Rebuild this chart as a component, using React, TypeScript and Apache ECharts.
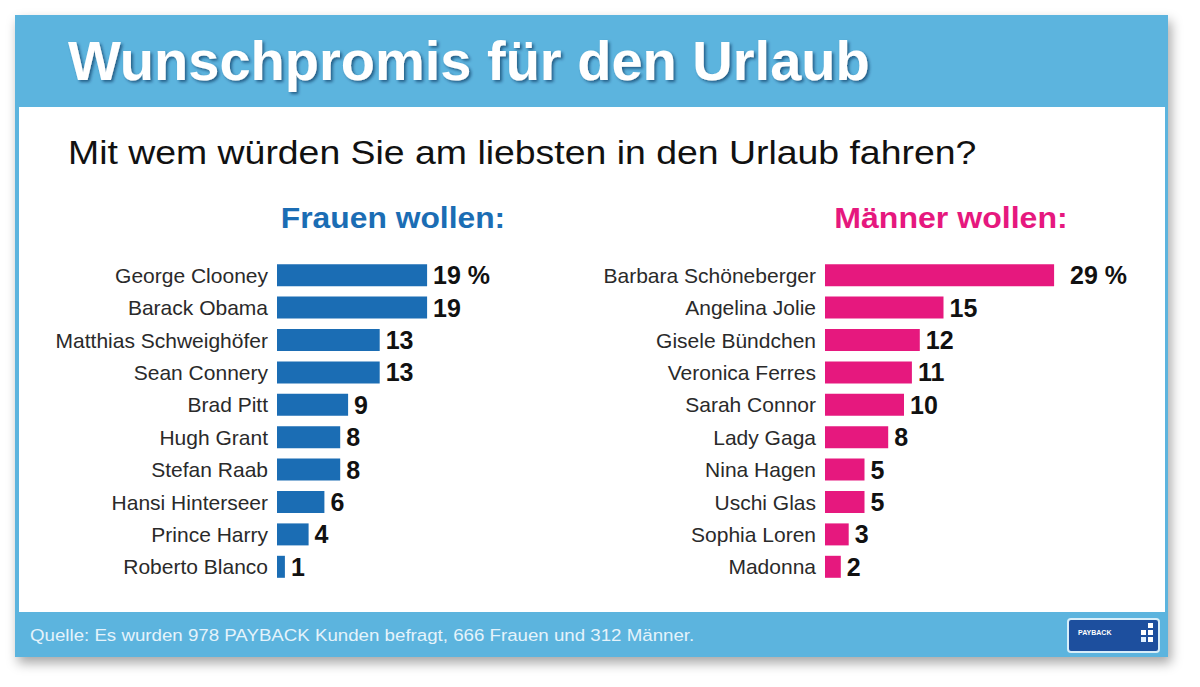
import React, { useEffect, useRef } from "react";
import * as echarts from "echarts";

const frauenNames = [
  "George Clooney",
  "Barack Obama",
  "Matthias Schweighöfer",
  "Sean Connery",
  "Brad Pitt",
  "Hugh Grant",
  "Stefan Raab",
  "Hansi Hinterseer",
  "Prince Harry",
  "Roberto Blanco",
];
const frauenValues = [19, 19, 13, 13, 9, 8, 8, 6, 4, 1];

const maennerNames = [
  "Barbara Schöneberger",
  "Angelina Jolie",
  "Gisele Bündchen",
  "Veronica Ferres",
  "Sarah Connor",
  "Lady Gaga",
  "Nina Hagen",
  "Uschi Glas",
  "Sophia Loren",
  "Madonna",
];
const maennerValues = [29, 15, 12, 11, 10, 8, 5, 5, 3, 2];

const TITLE = "Wunschpromis für den Urlaub";
const SUBTITLE = "Mit wem würden Sie am liebsten in den Urlaub fahren?";
const LEFT_HEAD = "Frauen wollen:";
const RIGHT_HEAD = "Männer wollen:";
const SOURCE = "Quelle: Es wurden 978 PAYBACK Kunden befragt, 666 Frauen und 312 Männer.";

const FONT = "Arial, 'Liberation Sans', Helvetica, sans-serif";
const BLUE = "#1b6db4";
const PINK = "#e6187e";
const FRAME = "#5cb4de";

export default function App() {
  const ref = useRef<HTMLDivElement>(null);
  useEffect(() => {
    if (!ref.current) return;
    const chart = echarts.init(ref.current, undefined, { renderer: "svg" });
    const labelCfg = () => ({
      show: true,
      position: "right" as const,
      distance: 6,
      fontSize: 25,
      fontWeight: "bold" as const,
      color: "#111",
      fontFamily: FONT,
      formatter: (p: any) => (p.dataIndex === 0 ? `${p.value} %` : `${p.value}`),
    });
    const yAxisCfg = (names: string[], gridIndex: number) => ({
      type: "category" as const,
      gridIndex,
      data: names,
      inverse: true,
      z: 10,
      axisLine: { show: false },
      axisTick: { show: false },
      splitLine: { show: false },
      axisLabel: {
        show: true,
        margin: 9,
        fontSize: 21,
        color: "#2a2a2a",
        fontFamily: FONT,
      },
    });
    const xAxisCfg = (gridIndex: number) => ({
      type: "value" as const,
      gridIndex,
      min: 0,
      max: 30,
      show: false,
      splitLine: { show: false },
    });
    const menData = maennerValues.map((v, i) =>
      i === 0 ? { value: v, label: { distance: 16 } } : v
    );
    chart.setOption({
      animation: false,
      backgroundColor: "#ffffff",
      graphic: [
        {
          type: "rect",
          shape: { x: 15, y: 15, width: 1153, height: 642 },
          style: {
            fill: FRAME,
            shadowBlur: 12,
            shadowOffsetX: 3,
            shadowOffsetY: 6,
            shadowColor: "rgba(0,0,0,0.35)",
          },
          z: -10,
        },
        {
          type: "rect",
          shape: { x: 19, y: 107, width: 1146, height: 505 },
          style: { fill: "#ffffff" },
          z: -9,
        },
        {
          type: "text",
          x: 68,
          y: 60,
          style: {
            text: TITLE,
            fontSize: 56,
            fontWeight: "bold",
            fontFamily: FONT,
            fill: "#ffffff",
            verticalAlign: "middle",
            textShadowColor: "rgba(0,40,80,0.6)",
            textShadowBlur: 3,
            textShadowOffsetX: 2,
            textShadowOffsetY: 2,
          },
          z: 2,
        },
        {
          type: "text",
          x: 68,
          y: 153,
          scaleX: 1.1,
          style: {
            text: SUBTITLE,
            fontSize: 34,
            fontFamily: FONT,
            fill: "#111",
            verticalAlign: "middle",
          },
          z: 2,
        },
        {
          type: "text",
          x: 393,
          y: 218,
          scaleX: 1.06,
          style: {
            text: LEFT_HEAD,
            fontSize: 30,
            fontWeight: "bold",
            fontFamily: FONT,
            fill: BLUE,
            align: "center",
            verticalAlign: "middle",
          },
          z: 2,
        },
        {
          type: "text",
          x: 951,
          y: 218,
          scaleX: 1.07,
          style: {
            text: RIGHT_HEAD,
            fontSize: 30,
            fontWeight: "bold",
            fontFamily: FONT,
            fill: PINK,
            align: "center",
            verticalAlign: "middle",
          },
          z: 2,
        },
        {
          type: "text",
          x: 30,
          y: 635,
          scaleX: 1.1,
          style: {
            text: SOURCE,
            fontSize: 17,
            fontFamily: FONT,
            fill: "#e4f3fb",
            verticalAlign: "middle",
          },
          z: 2,
        },
        {
          type: "rect",
          shape: { x: 1068, y: 619, width: 91, height: 33, r: 3 },
          style: { fill: "#1d4f9e", stroke: "#d8eef9", lineWidth: 2 },
          z: 2,
        },
        {
          type: "text",
          x: 1078,
          y: 632,
          style: {
            text: "PAYBACK",
            fontSize: 7,
            fontWeight: "bold",
            fontFamily: FONT,
            fill: "#ffffff",
            verticalAlign: "middle",
          },
          z: 3,
        },
        { type: "rect", shape: { x: 1148, y: 623, width: 5, height: 5 }, style: { fill: "#ffffff" }, z: 3 },
        { type: "rect", shape: { x: 1141, y: 630, width: 5, height: 5 }, style: { fill: "#ffffff" }, z: 3 },
        { type: "rect", shape: { x: 1148, y: 630, width: 5, height: 5 }, style: { fill: "#ffffff" }, z: 3 },
        { type: "rect", shape: { x: 1148, y: 637, width: 5, height: 5 }, style: { fill: "#ffffff" }, z: 3 },
        { type: "rect", shape: { x: 1141, y: 637, width: 5, height: 5 }, style: { fill: "#dfefff" }, z: 3 },
      ],
      grid: [
        { left: 277, top: 259, width: 237, height: 324 },
        { left: 825, top: 259, width: 237, height: 324 },
      ],
      xAxis: [xAxisCfg(0), xAxisCfg(1)],
      yAxis: [yAxisCfg(frauenNames, 0), yAxisCfg(maennerNames, 1)],
      series: [
        {
          type: "bar",
          name: "Frauen",
          xAxisIndex: 0,
          yAxisIndex: 0,
          data: frauenValues,
          barWidth: 22,
          itemStyle: { color: BLUE },
          label: labelCfg(),
          z: 5,
        },
        {
          type: "bar",
          name: "Männer",
          xAxisIndex: 1,
          yAxisIndex: 1,
          data: menData,
          barWidth: 22,
          itemStyle: { color: PINK },
          label: labelCfg(),
          z: 5,
        },
      ],
    });
    return () => chart.dispose();
  }, []);
  return (
    <div
      ref={ref}
      style={{ position: "fixed", left: 0, top: 0, width: 1200, height: 687 }}
    />
  );
}
